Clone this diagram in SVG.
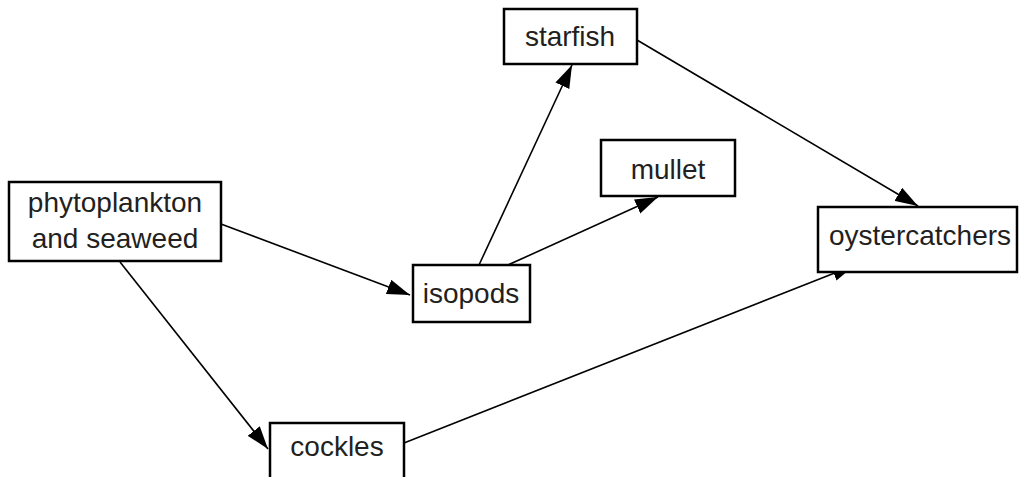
<svg xmlns="http://www.w3.org/2000/svg" width="1020" height="477" viewBox="0 0 1020 477">
<style>
.box{fill:#fff;stroke:#000;stroke-width:2.5}
.lbl{font-family:"Liberation Sans",Arial,sans-serif;font-size:28px;fill:#231f20;text-anchor:middle}
.edge{stroke:#000;stroke-width:1.6;fill:none;marker-end:url(#ah)}
</style>
<defs>
<marker id="ah" markerUnits="userSpaceOnUse" markerWidth="24" markerHeight="16" viewBox="0 0 22 14" refX="21" refY="7" orient="auto">
<path d="M0,0 L21,7 L0,14 Z" fill="#000"/>
</marker>
</defs>
<rect width="1020" height="477" fill="#fff"/>
<g id="connectors">
<line class="edge" x1="221" y1="224" x2="410" y2="295"/>
<line class="edge" x1="120" y1="262" x2="268" y2="449"/>
<line class="edge" x1="479" y1="265" x2="572" y2="65"/>
<line class="edge" x1="508" y1="265" x2="658" y2="197"/>
<line class="edge" x1="637" y1="40" x2="918" y2="206"/>
<line class="edge" x1="404" y1="443" x2="855" y2="265"/>
</g>
<g id="phytoplankton">
<rect class="box" x="9" y="182" width="212" height="79"/>
<text class="lbl" x="115" y="212">phytoplankton</text>
<text class="lbl" x="115" y="248">and seaweed</text>
</g>
<g id="isopods">
<rect class="box" x="413" y="265" width="117" height="57"/>
<text class="lbl" x="471" y="303">isopods</text>
</g>
<g id="starfish">
<rect class="box" x="504" y="9" width="133" height="55"/>
<text class="lbl" x="570" y="46">starfish</text>
</g>
<g id="mullet">
<rect class="box" x="601" y="140" width="134" height="56"/>
<text class="lbl" x="668" y="179">mullet</text>
</g>
<g id="oystercatchers">
<rect class="box" x="818" y="207" width="199" height="65"/>
<text class="lbl" x="920" y="245">oystercatchers</text>
</g>
<g id="cockles">
<rect class="box" x="270" y="423" width="134" height="60"/>
<text class="lbl" x="337" y="456">cockles</text>
</g>
</svg>
